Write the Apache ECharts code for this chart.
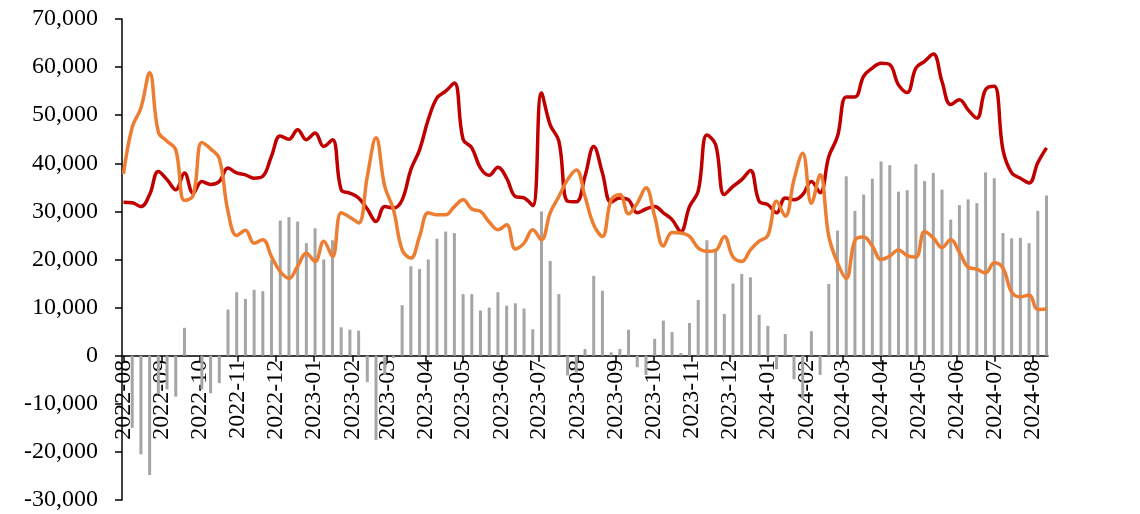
<!DOCTYPE html>
<html>
<head>
<meta charset="utf-8">
<script src="https://cdn.jsdelivr.net/npm/echarts@6/dist/echarts.min.js"></script>
<style>
  html, body { margin: 0; padding: 0; background: #fff; }
  #main { width: 1140px; height: 514px; }
</style>
</head>
<body>
<div id="main"></div>
<script>
// weekly observations, first week starts 2022-08-01
const startDate = '2022-08-01';
const weekCount = 107;

const barValues = [
  0, -15000, -20500, -24800, -8000, -7000, -8500, 5800, 0, -7000,
  -7800, -5700, 9600, 13200, 11800, 13700, 13400, 19900, 28100, 28800,
  27900, 23400, 26500, 20000, 24000, 5900, 5400, 5200, -5500, -17500,
  -4000, -500, 10500, 18600, 18000, 20000, 24300, 25800, 25500, 12800,
  12800, 9400, 10000, 13200, 10400, 10900, 9800, 5500, 30000, 19700,
  12800, -4100, -3500, 1400, 16600, 13500, 700, 1400, 5400, -2400,
  -4000, 3500, 7300, 4900, 550, 6800, 11600, 24000, 22000, 8700,
  15000, 17000, 16300, 8500, 6200, -2800, 4500, -4900, -9000, 5100,
  -4000, 14900, 26000, 37300, 30100, 33500, 36800, 40400, 39600, 34100,
  34400, 39800, 36300, 38000, 34500, 28300, 31300, 32500, 31700, 38100,
  36900, 25500, 24400, 24500, 23400, 30100, 33300
];

const redValues = [
  31900, 31800, 31000, 33500, 38300, 36600, 34500, 38000, 33800, 36200,
  35600, 36200, 39000, 38000, 37600, 36900, 37300, 41500, 45700, 45000,
  47000, 44900, 46300, 43500, 44900, 34500, 33800, 32800, 30500, 27900,
  31000, 30700, 32400, 38700, 42800, 49100, 53600, 55000, 56700, 45000,
  43200, 39000, 37500, 39200, 36900, 33100, 32800, 31200, 54600, 48000,
  44600, 32100, 32000, 37300, 43500, 38000, 31900, 32800, 32400, 29700,
  30500, 31000, 29700, 28300, 25800, 31000, 34200, 45900, 43900, 33500,
  35200, 36600, 38500, 32100, 31400, 29700, 32800, 32400, 33500, 36200,
  33900, 41400, 45600, 53800, 53800, 58100, 59800, 60800, 60500, 56300,
  54700, 59800, 61200, 62700, 57000, 52200, 53200, 51100, 49400, 55300,
  56000, 42800, 38000, 36900, 35900, 40100, 43200
];

const orangeValues = [
  37800, 47500, 51500, 58800, 46500, 44600, 42800, 32300, 33300, 44300,
  43000, 41000, 30000, 25000, 26100, 23400, 24100, 20600, 17500, 16100,
  18600, 21300, 19600, 23800, 20600, 29700, 28800, 27600, 37300, 45300,
  35200, 30400, 22000, 20300, 24800, 29700, 29300, 29300, 31000, 32400,
  30500, 30000, 27800, 26200, 27200, 22200, 23400, 26200, 24100, 29700,
  33100, 36600, 38600, 33100, 27200, 24800, 32400, 33500, 29500, 31700,
  34900, 29000, 22800, 25600, 25500, 24800, 22400, 21700, 21900, 24800,
  20500, 19600, 22000, 23800, 25000, 32100, 29000, 36600, 42100, 31700,
  37600, 24800, 19300, 16100, 24000, 24700, 22800, 20000, 20700, 22000,
  20800, 20500, 25800, 24500, 22500, 24100, 21500, 18400, 18000, 17200,
  19300, 18200, 13200, 12200, 12600, 9600, 9700
];

const yTicks = { min: -30000, max: 70000, step: 10000 };

const DAY = 86400000;
const t0 = new Date(startDate + 'T00:00:00Z').getTime();
const dates = [];
for (let i = 0; i < weekCount; i++) dates.push(t0 + i * 7 * DAY);

const pair = arr => arr.map((v, i) => [dates[i], v]);

const font = "'Times New Roman', 'Liberation Serif', serif";

const chart = echarts.init(document.getElementById('main'), null, { renderer: 'canvas' });
chart.setOption({
  animation: false,
  backgroundColor: '#fff',
  grid: { left: 122, right: 92, top: 19, bottom: 14, containLabel: false, outerBoundsMode: 'none' },
  xAxis: {
    type: 'time',
    min: dates[0],
    max: dates[dates.length - 1],
    minInterval: 28 * DAY,
    maxInterval: 31 * DAY,
    splitNumber: 25,
    axisLine: { show: true, onZero: false, lineStyle: { color: '#000', width: 1.5 } },
    axisTick: { show: true, length: 6, lineStyle: { color: '#000', width: 1.5 } },
    axisLabel: {
      rotate: 90,
      margin: 4,
      color: '#000',
      fontFamily: font,
      fontSize: 24,
      showMaxLabel: false,
      formatter: '{yyyy}-{MM}'
    },
    splitLine: { show: false },
    minorTick: { show: false }
  },
  yAxis: {
    type: 'value',
    min: yTicks.min,
    max: yTicks.max,
    interval: yTicks.step,
    axisLine: { show: true, lineStyle: { color: '#000', width: 1.5 } },
    axisTick: { show: true, length: 7, lineStyle: { color: '#000', width: 1.5 } },
    axisLabel: {
      margin: 24,
      color: '#000',
      fontFamily: font,
      fontSize: 24,
      formatter: v => v.toLocaleString('en-US')
    },
    splitLine: { show: false }
  },
  series: [
    {
      name: 'bars',
      type: 'bar',
      data: pair(barValues),
      barWidth: 3,
      itemStyle: { color: '#A5A5A5' },
      z: 1
    },
    {
      name: 'red',
      type: 'line',
      data: pair(redValues),
      smooth: 0.4,
      symbol: 'none',
      lineStyle: { color: '#C00000', width: 3.5 },
      z: 2
    },
    {
      name: 'orange',
      type: 'line',
      data: pair(orangeValues),
      smooth: 0.4,
      symbol: 'none',
      lineStyle: { color: '#ED7D31', width: 3.5 },
      z: 3
    }
  ]
});

// time axis won't sit on zero by itself here, so lift it to the y=0 line
const yZero = chart.convertToPixel({ yAxisIndex: 0 }, 0);
const yBottom = chart.convertToPixel({ yAxisIndex: 0 }, yTicks.min);
chart.setOption({ xAxis: { offset: yZero - yBottom } });
</script>
</body>
</html>
